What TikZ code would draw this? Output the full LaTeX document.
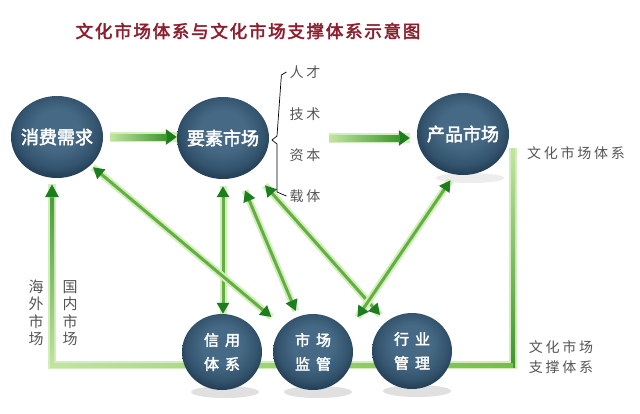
\documentclass[tikz,border=0pt]{standalone}
\usepackage{fontspec}
\usetikzlibrary{shapes.geometric,arrows.meta}
\newfontfamily\cjk{Noto Sans CJK SC}
\newfontfamily\cjkb[FakeBold=2.5]{Noto Sans CJK SC}
\newfontfamily\cjkt[FakeBold=2.5,LetterSpace=10]{Noto Sans CJK SC}
\newfontfamily\cjkl[LetterSpace=20]{Noto Sans CJK SC}
\definecolor{sphC}{RGB}{70,106,134}
\definecolor{sphM}{RGB}{52,84,110}
\definecolor{sphE}{RGB}{28,52,76}
\definecolor{gcore}{RGB}{100,175,65}
\definecolor{gdark}{RGB}{30,125,30}
\definecolor{gmid}{RGB}{60,150,45}
\definecolor{glight}{RGB}{195,228,160}
\definecolor{gglow}{RGB}{210,238,188}
\definecolor{gframe}{RGB}{120,190,75}
\definecolor{titlered}{RGB}{140,30,45}
\definecolor{lbl}{RGB}{85,85,85}
\pgfdeclareradialshading{sphshade}{\pgfpoint{0bp}{6bp}}{color(0bp)=(sphC); color(12bp)=(sphC); color(22bp)=(sphM); color(30bp)=(sphE); color(50bp)=(sphE)}
\pgfdeclarelayer{bg}
\pgfdeclarelayer{back}
\pgfsetlayers{back,bg,main}
\tikzset{
  bigsph/.style={ellipse, minimum width=92pt, minimum height=82pt, inner sep=0pt,
    shading=sphshade, text=white, font=\cjkb\fontsize{18}{18}\selectfont},
  smsph/.style={ellipse, minimum width=80pt, minimum height=76pt, inner sep=0pt,
    shading=sphshade, text=white, align=center,
    font=\cjkb\fontsize{15}{24}\selectfont},
  conn/.style={draw=gcore, line width=3pt, {Triangle[length=11pt,width=12pt,color=gdark]}-{Triangle[length=11pt,width=12pt,color=gdark]},
    preaction={draw=gglow, line width=7pt, arrows=-}},
  hbar/.style={draw=gcore, line width=6pt, -{Triangle[length=11pt,width=15pt,color=gdark]},
    preaction={draw=gglow, line width=10pt, arrows=-}},
  hshade/.style={left color=glight, right color=gmid},
  frame/.style={draw=gframe, line width=4pt, -{Triangle[length=13pt,width=13pt,color=gdark]},
    preaction={draw=gglow, line width=8pt, arrows=-}},
  lbl/.style={text=lbl, font=\cjkl\fontsize{14}{14}\selectfont, inner sep=0pt},
  vlbl/.style={text=lbl, font=\cjk\fontsize{15}{17.5}\selectfont, align=center, inner sep=0pt},
  shadowe/.style={fill=black!12},
}
\begin{document}
\begin{tikzpicture}[x=1pt,y=-1pt]
\begin{pgfonlayer}{back}
\fill[white] (0,0) rectangle (640,413);
\end{pgfonlayer}
\useasboundingbox (0,0) rectangle (640,413);

\node[text=titlered, font=\cjkt\fontsize{17.5}{17.5}\selectfont] (title) at (248,31) {文化市场体系与文化市场支撑体系示意图};

\node[bigsph] (xf) at (57,137) {\makebox[0pt]{消费需求}};
\node[bigsph] (ys) at (223,138) {\makebox[0pt]{要素市场}};
\node[bigsph] (cp) at (463,134) {\makebox[0pt]{产品市场}};
\node[smsph] (xy) at (222,352) {信\hspace{6pt}用\\体\hspace{6pt}系};
\node[smsph] (jg) at (313,352) {市\hspace{6pt}场\\监\hspace{6pt}管};
\node[smsph] (hy) at (412,351) {行\hspace{6pt}业\\管\hspace{6pt}理};

% labels
\node[lbl] (rc) at (305,72) {人才};
\node[lbl] (js) at (305,114) {技术};
\node[lbl] (zb) at (305,155) {资本};
\node[lbl] (zt) at (305,196) {载体};
\node[lbl] (wh1) at (576,153) {文化市场体系};
\node[lbl, align=left, font=\cjkl\fontsize{14}{20}\selectfont] (wh2) at (561,357) {文化市场\\支撑体系};
\node[vlbl] (hw) at (36,313) {海\\外\\市\\场};
\node[vlbl] (gn) at (70,313) {国\\内\\市\\场};

% bracket
\draw[lbl, line width=0.7pt] ([xshift=-3pt]rc.west) -- ++(-5,3) -- (277,136) -- (272,140) -- (277,144) -- (277,192) -- ([xshift=-3pt]zt.west);

\coordinate (fr) at (513,148);
\coordinate (bl) at (52,365);

\begin{pgfonlayer}{bg}
% shadows
\fill[shadowe] (225,392) ellipse (34pt and 6pt);
\fill[shadowe] (318,392) ellipse (34pt and 6pt);
\fill[shadowe] (417,391) ellipse (34pt and 6pt);
\fill[black!7] (470,178) ellipse (34pt and 5pt);
% frame connector
\draw[frame, shorten >=6pt] (fr) |- (bl) -- (bl |- xf.south);
\shade[top color=glight, bottom color=gmid] ([xshift=-2pt]fr) rectangle ([xshift=2pt,yshift=-2pt]fr |- bl);
\shade[left color=glight, right color=gframe] ([xshift=-2pt,yshift=2pt]bl) rectangle ([yshift=-2pt]fr |- bl);
\shade[top color=gmid, bottom color=glight] ([xshift=-2pt]bl |- xf.south) ++(0,20) rectangle ([xshift=2pt,yshift=-2pt]bl);
% horizontal arrows
\draw[hbar, shorten <=7pt] (xf.east) -- (xf.east -| ys.west);
\shade[hshade] ([xshift=7pt,yshift=-3pt]xf.east) rectangle ([xshift=-10pt,yshift=3pt]xf.east -| ys.west);
\draw[hbar, shorten <=60pt, shorten >=7pt] (ys.east) -- (ys.east -| cp.west);
\shade[hshade] ([xshift=60pt,yshift=-3pt]ys.east) rectangle ([xshift=-17pt,yshift=3pt]ys.east -| cp.west);
% other connectors
\draw[conn, shorten <=7pt] (ys.south) -- (ys.south |- xy.north);
\draw[conn, shorten <=3pt, shorten >=15pt] (xf) -- (jg);
\draw[conn, shorten <=15pt, shorten >=6pt] (ys) -- (jg);
\draw[conn, shorten <=20pt, shorten >=9pt] (ys) -- (hy);
\draw[conn, shorten <=7pt, shorten >=18pt] (cp.258) -- (jg.30);
\end{pgfonlayer}
\end{tikzpicture}
\end{document}
